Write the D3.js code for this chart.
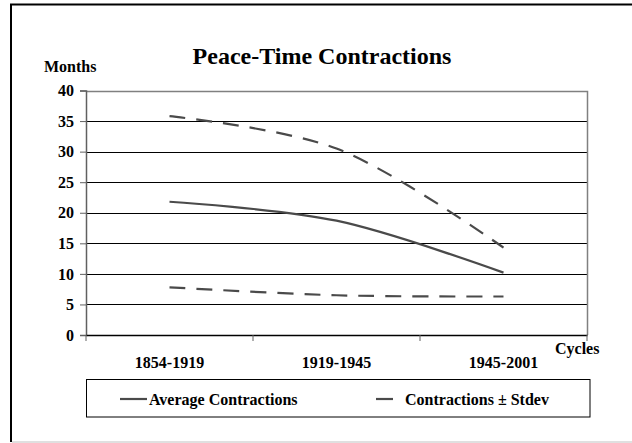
<!DOCTYPE html>
<html>
<head>
<meta charset="utf-8">
<script src="https://cdn.jsdelivr.net/npm/d3@7"></script>
<style>
  html, body { margin: 0; padding: 0; background: #fff; overflow: hidden; }
  svg { display: block; }
  text { font-family: "Liberation Serif", "Times New Roman", serif; font-weight: bold; fill: #000; }
</style>
</head>
<body>
<div id="chart"></div>
<script>
var cycles = ["1854-1919", "1919-1945", "1945-2001"];
var average = [21.8, 18.7, 10.2];
var upper = [35.8, 30.5, 14.3];
var lower = [7.8, 6.5, 6.3];
var yTicks = [0, 5, 10, 15, 20, 25, 30, 35, 40];

var width = 632, height = 443;
var plot = {left: 86, top: 90.5, right: 587, bottom: 335};
var serif = "'Liberation Serif', 'Times New Roman', serif";

var svg = d3.select("#chart").append("svg").attr("width", width).attr("height", height);

// outer frame (only left and top fall inside the picture)
svg.append("path")
  .attr("d", "M11,442V4.5H" + width)
  .attr("fill", "none").attr("stroke", "#000").attr("stroke-width", 2);
svg.append("line")
  .attr("x1", 12).attr("x2", width).attr("y1", 442).attr("y2", 442)
  .attr("stroke", "#e0e0e0").attr("stroke-width", 2);

var x = d3.scaleBand().domain(cycles).range([plot.left, plot.right]);
var y = d3.scaleLinear().domain([0, 40]).range([plot.bottom, plot.top]);

// gridlines
svg.append("g").selectAll("line")
  .data(yTicks.filter(function(d) { return d > 0 && d < 40; }))
  .enter().append("line")
  .attr("x1", plot.left).attr("x2", plot.right)
  .attr("y1", function(d) { return Math.round(y(d)) + 0.5; })
  .attr("y2", function(d) { return Math.round(y(d)) + 0.5; })
  .attr("stroke", "#000").attr("stroke-width", 1);

// plot border top/right
svg.append("path")
  .attr("d", "M" + plot.left + "," + (Math.round(plot.top) + 0.5) + "H" + (plot.right + 0.5) + "V" + plot.bottom)
  .attr("fill", "none").attr("stroke", "#808080").attr("stroke-width", 1.5);

// y axis
var yAxis = svg.append("g")
  .attr("transform", "translate(" + plot.left + ",0)")
  .call(d3.axisLeft(y).tickValues(yTicks).tickSize(6).tickPadding(6));
yAxis.attr("font-family", serif).attr("font-size", 16);
yAxis.select(".domain").attr("stroke", "#606060").attr("stroke-width", 1.5);
yAxis.selectAll(".tick line").attr("stroke", "#606060");

// x axis with boundary ticks
var xAxis = svg.append("g")
  .attr("transform", "translate(0," + plot.bottom + ")")
  .call(d3.axisBottom(x).tickSize(0).tickPadding(22));
xAxis.attr("font-family", serif).attr("font-size", 16);
xAxis.select(".domain").attr("stroke", "#000").attr("stroke-width", 1.5);
svg.append("g").selectAll("line")
  .data(cycles.concat(["end"]))
  .enter().append("line")
  .attr("x1", function(d, i) { return i < cycles.length ? x(d) : plot.right; })
  .attr("x2", function(d, i) { return i < cycles.length ? x(d) : plot.right; })
  .attr("y1", plot.bottom).attr("y2", plot.bottom + 6)
  .attr("stroke", "#606060").attr("stroke-width", 1);

// series lines
var line = d3.line()
  .x(function(d, i) { return x(cycles[i]) + x.bandwidth() / 2; })
  .y(function(d) { return y(d); })
  .curve(d3.curveCatmullRom.alpha(0.5));

svg.append("path").datum(average)
  .attr("d", line).attr("fill", "none")
  .attr("stroke", "#4a4a4a").attr("stroke-width", 2.2);
[upper, lower].forEach(function(s) {
  svg.append("path").datum(s)
    .attr("d", line).attr("fill", "none")
    .attr("stroke", "#4a4a4a").attr("stroke-width", 2.2)
    .attr("stroke-dasharray", "16,11");
});

// titles
svg.append("text").attr("x", 322).attr("y", 64).attr("text-anchor", "middle")
  .attr("font-size", 24).text("Peace-Time Contractions");
svg.append("text").attr("x", 44).attr("y", 72).attr("font-size", 16).text("Months");
svg.append("text").attr("x", 555).attr("y", 354).attr("font-size", 16).text("Cycles");

// legend
var legend = svg.append("g");
legend.append("rect")
  .attr("x", 86.5).attr("y", 379.5).attr("width", 503.5).attr("height", 37.5)
  .attr("fill", "none").attr("stroke", "#000").attr("stroke-width", 1);
legend.append("line")
  .attr("x1", 120).attr("x2", 147).attr("y1", 399).attr("y2", 399)
  .attr("stroke", "#4a4a4a").attr("stroke-width", 2.2);
legend.append("text").attr("x", 149).attr("y", 404.5).attr("font-size", 16).text("Average Contractions");
legend.append("line")
  .attr("x1", 376).attr("x2", 393).attr("y1", 399).attr("y2", 399)
  .attr("stroke", "#4a4a4a").attr("stroke-width", 2.2);
legend.append("text").attr("x", 405).attr("y", 404.5).attr("font-size", 16).text("Contractions ± Stdev");

svg.selectAll("text").style("font-family", serif).style("font-weight", "bold");
</script>
</body>
</html>
